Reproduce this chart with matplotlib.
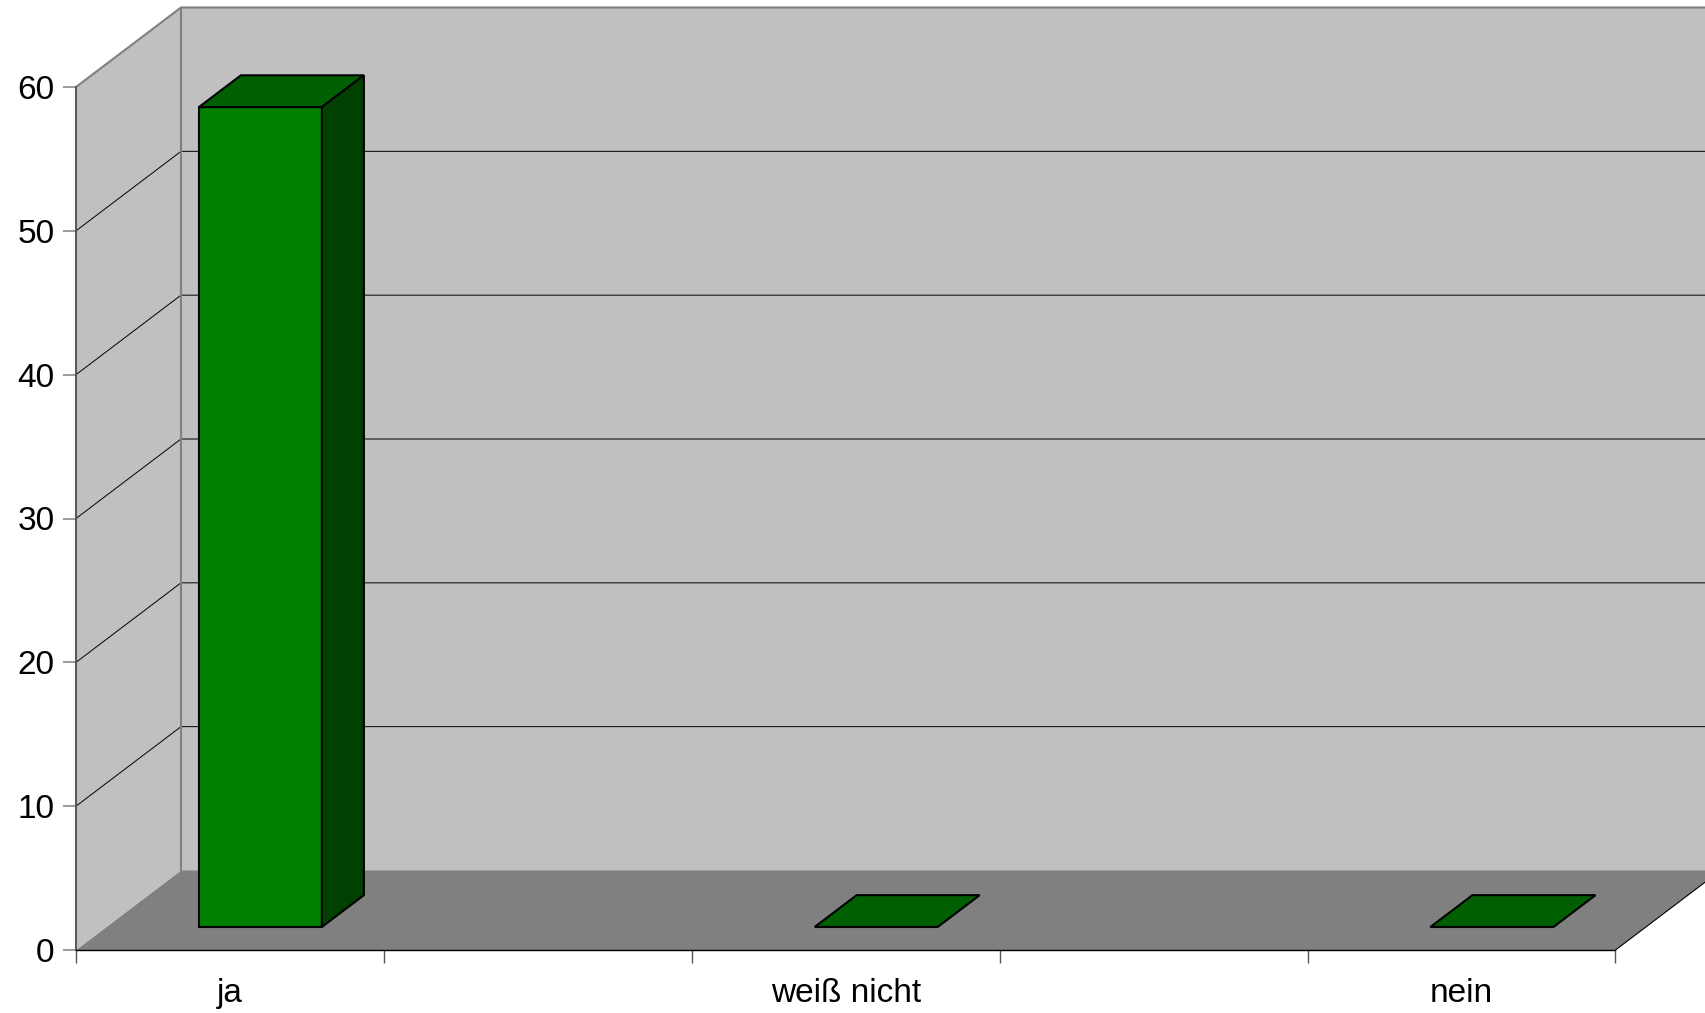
import matplotlib
matplotlib.use("Agg")
import matplotlib.pyplot as plt
from matplotlib.patches import Polygon

plt.rcParams['font.family'] = ['Liberation Sans', 'DejaVu Sans']

# five slots on the category axis, only every second one carries a label
slots = [0, 1, 2, 3, 4]
categories = ['ja', 'weiß nicht', 'nein']
category_slots = [0, 2, 4]
values = [57, 0, 0]
y_ticks = [0, 10, 20, 30, 40, 50, 60]

WALL = '#c0c0c0'
FLOOR = '#808080'
BAR_FRONT = '#008000'
BAR_TOP = '#005f00'
BAR_SIDE = '#004000'

W, H = 1706, 1013
LEFT, RIGHT, BOTTOM, TOP = 76, 1706, 950, 8
PX_X = (1615.5 - 76) / 5
PX_Y = (950 - 87) / 60

# oblique offset of the back wall, in data units
DEPTH_X = 105 / PX_X
DEPTH_Y = 79.5 / PX_Y
BAR_WIDTH = 123 / PX_X
BAR_D0 = 0.29
BAR_D1 = 0.69


def proj(x, v, d):
    return (x + d * DEPTH_X, v + d * DEPTH_Y)


fig = plt.figure(figsize=(W / 100, H / 100), dpi=100)
ax = fig.add_axes([LEFT / W, 1 - BOTTOM / H, (RIGHT - LEFT) / W, (BOTTOM - TOP) / H])
ax.set_xlim(0, (RIGHT - LEFT) / PX_X)
ax.set_ylim(0, (BOTTOM - TOP) / PX_Y)
ax.patch.set_visible(False)

x_max = len(slots)
x_far = x_max + 1
y_max = y_ticks[-1]

# walls and floor
ax.add_patch(Polygon([proj(0, 0, 1), proj(x_far, 0, 1), proj(x_far, y_max, 1), proj(0, y_max, 1)],
                     fc=WALL, ec='none', zorder=1))
ax.add_patch(Polygon([(0, 0), (x_max, 0), proj(x_max, 0, 1), proj(x_far, 0, 1), proj(0, 0, 1)],
                     fc=FLOOR, ec='none', zorder=1))
ax.add_patch(Polygon([(0, 0), proj(0, 0, 1), proj(0, y_max, 1), (0, y_max)],
                     fc=WALL, ec='none', zorder=1))

# gridlines run along the side wall and then across the back
for v in y_ticks[1:-1]:
    p0 = proj(0, v, 0)
    p1 = proj(0, v, 1)
    ax.plot([p0[0], p1[0], x_far + 1], [p0[1], p1[1], p1[1]], color='black', lw=0.7, zorder=2)

# wall outline
p_top_front = (0, y_max)
p_top_back = proj(0, y_max, 1)
ax.plot([p_top_front[0], p_top_back[0], x_far + 1], [p_top_front[1], p_top_back[1], p_top_back[1]],
        color='#808080', lw=1.5, zorder=2, clip_on=False)
ax.plot([p_top_back[0], p_top_back[0]], [p_top_back[1], DEPTH_Y], color='#808080', lw=1.5, zorder=2)
# right edge of the floor
ax.plot([x_max, proj(x_max, 0, 1)[0]], [0, DEPTH_Y], color='black', lw=0.8, zorder=2)

# bars
for s, val in zip(category_slots, values):
    x0 = s + 0.5 - BAR_WIDTH / 2
    x1 = x0 + BAR_WIDTH
    fx, fy = proj(x0, 0, BAR_D0)
    ax.bar(fx, val, width=BAR_WIDTH, bottom=fy, align='edge', color=BAR_FRONT,
           edgecolor='black', linewidth=1.5, zorder=3)
    ax.add_patch(Polygon([proj(x0, val, BAR_D0), proj(x1, val, BAR_D0), proj(x1, val, BAR_D1), proj(x0, val, BAR_D1)],
                         fc=BAR_TOP, ec='black', lw=1.5, joinstyle='miter', zorder=3))
    if val > 0:
        ax.add_patch(Polygon([proj(x1, 0, BAR_D0), proj(x1, 0, BAR_D1), proj(x1, val, BAR_D1), proj(x1, val, BAR_D0)],
                             fc=BAR_SIDE, ec='black', lw=1.5, joinstyle='miter', zorder=3))

# axes
for side in ['top', 'right']:
    ax.spines[side].set_visible(False)
ax.spines['left'].set_bounds(0, y_max)
ax.spines['left'].set_color('#555555')
ax.spines['left'].set_linewidth(1.4)
ax.spines['bottom'].set_bounds(0, x_max)
ax.spines['bottom'].set_linewidth(1.0)
ax.spines['left'].set_zorder(4)
ax.spines['bottom'].set_zorder(4)

ax.set_yticks(y_ticks)
ax.tick_params(axis='y', length=9.5, width=1.1, color='#808080', labelsize=24, pad=6)
ax.yaxis.get_major_ticks()[0].tick1line.set_color('black')

ax.set_xticks(list(range(x_max + 1)))
ax.set_xticklabels([])
ax.tick_params(axis='x', which='major', length=9.5, width=1.0, color='#555555')
ax.set_xticks([s + 0.5 for s in category_slots], minor=True)
ax.set_xticklabels(categories, minor=True)
ax.tick_params(axis='x', which='minor', length=0, labelsize=24, pad=20)

fig.savefig('out.png', dpi=100, facecolor='white')
